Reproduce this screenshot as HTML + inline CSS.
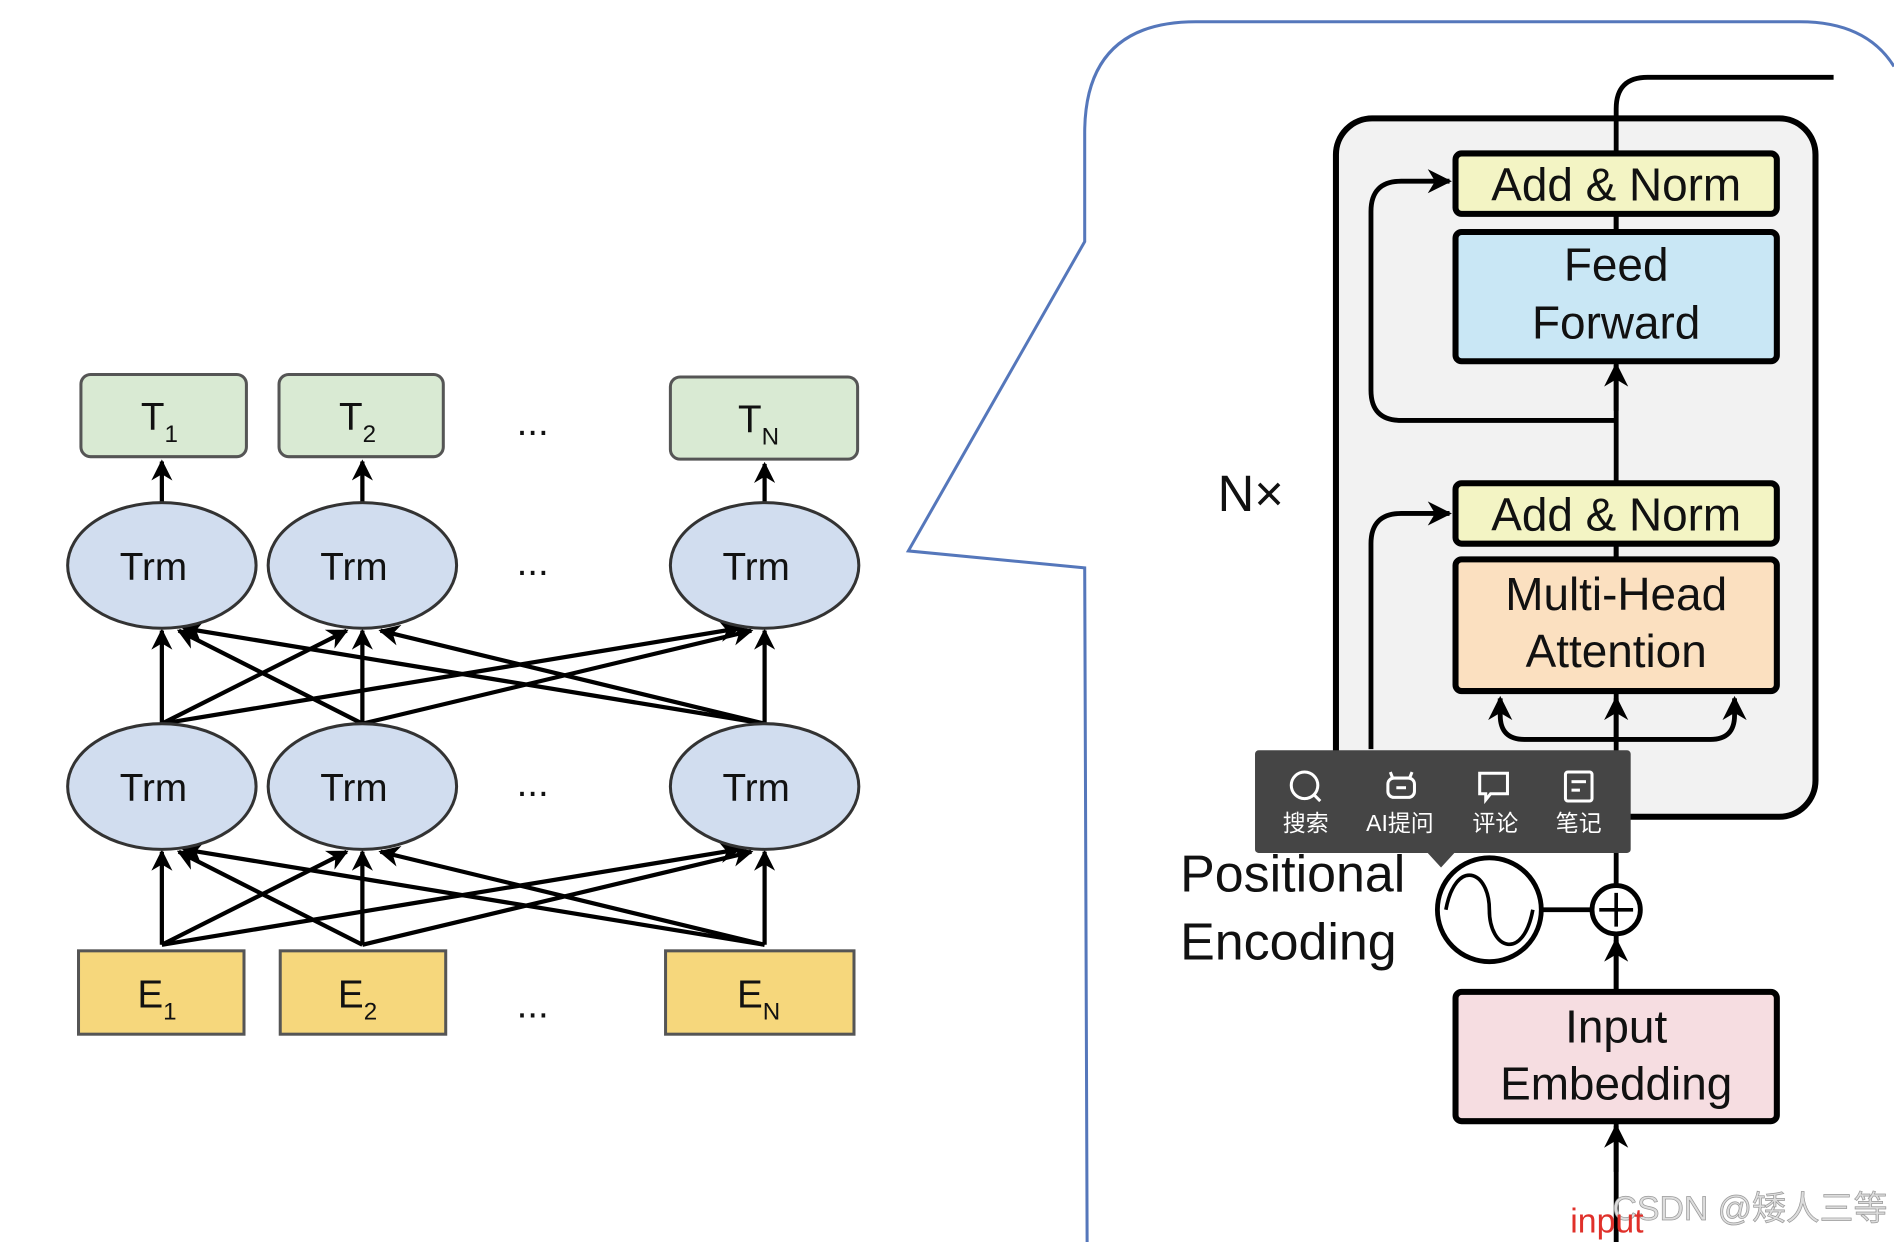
<!DOCTYPE html>
<html><head><meta charset="utf-8"><style>
html,body{margin:0;padding:0;background:#fff;}
svg{display:block;}
text{font-family:"Liberation Sans","Noto Sans CJK SC",sans-serif;}
</style></head><body>
<svg width="1894" height="1242" viewBox="0 0 1568 1028" preserveAspectRatio="none" xmlns="http://www.w3.org/2000/svg">
<defs>
<marker id="a" viewBox="0 0 10 10" refX="9" refY="5" markerWidth="5" markerHeight="5" orient="auto-start-reverse"><path d="M0,0 L10,5 L0,10 L3,5 z" fill="#000"/></marker>
</defs>
<rect width="1568" height="1028" fill="#fff"/>
<g stroke="#555" stroke-width="2.5">
<rect x="67" y="310" width="137" height="68" rx="8" fill="#d9ead3"/>
<rect x="231" y="310" width="136" height="68" rx="8" fill="#d9ead3"/>
<rect x="555" y="312" width="155" height="68" rx="8" fill="#d9ead3"/>
<rect x="65" y="787" width="137" height="69" fill="#f6d77c"/>
<rect x="232" y="787" width="137" height="69" fill="#f6d77c"/>
<rect x="551" y="787" width="156" height="69" fill="#f6d77c"/>
</g>
<g stroke="#000" stroke-width="3.5" fill="none" marker-end="url(#a)">
<line x1="134" y1="416" x2="134" y2="382"/>
<line x1="300" y1="416" x2="300" y2="382"/>
<line x1="633" y1="416" x2="633" y2="384"/>
<line x1="134" y1="599" x2="134" y2="522"/>
<line x1="134" y1="599" x2="287" y2="522"/>
<line x1="134" y1="599" x2="612" y2="520"/>
<line x1="300" y1="599" x2="148" y2="522"/>
<line x1="300" y1="599" x2="300" y2="522"/>
<line x1="300" y1="599" x2="622" y2="522"/>
<line x1="633" y1="599" x2="152" y2="520"/>
<line x1="633" y1="599" x2="315" y2="522"/>
<line x1="633" y1="599" x2="633" y2="522"/>
<line x1="134" y1="782" x2="134" y2="705"/>
<line x1="134" y1="782" x2="287" y2="705"/>
<line x1="134" y1="782" x2="612" y2="703"/>
<line x1="300" y1="782" x2="148" y2="705"/>
<line x1="300" y1="782" x2="300" y2="705"/>
<line x1="300" y1="782" x2="622" y2="705"/>
<line x1="633" y1="782" x2="152" y2="703"/>
<line x1="633" y1="782" x2="315" y2="705"/>
<line x1="633" y1="782" x2="633" y2="705"/>
</g>
<g stroke="#333" stroke-width="2.5" fill="#d1ddef">
<ellipse cx="134" cy="468" rx="78" ry="52"/>
<ellipse cx="300" cy="468" rx="78" ry="52"/>
<ellipse cx="633" cy="468" rx="78" ry="52"/>
<ellipse cx="134" cy="651" rx="78" ry="52"/>
<ellipse cx="300" cy="651" rx="78" ry="52"/>
<ellipse cx="633" cy="651" rx="78" ry="52"/>
</g>
<g font-size="32" fill="#111" text-anchor="middle">
<text x="127" y="480">Trm</text><text x="293" y="480">Trm</text><text x="626" y="480">Trm</text>
<text x="127" y="663">Trm</text><text x="293" y="663">Trm</text><text x="626" y="663">Trm</text>
<text x="132" y="356">T<tspan font-size="20" dy="10">1</tspan></text>
<text x="296" y="356">T<tspan font-size="20" dy="10">2</tspan></text>
<text x="628" y="358">T<tspan font-size="20" dy="10">N</tspan></text>
<text x="130" y="834">E<tspan font-size="20" dy="10">1</tspan></text>
<text x="296" y="834">E<tspan font-size="20" dy="10">2</tspan></text>
<text x="628" y="834">E<tspan font-size="20" dy="10">N</tspan></text>
<text x="441" y="360">...</text><text x="441" y="476">...</text><text x="441" y="659">...</text><text x="441" y="842">...</text>
</g>
<path d="M900,1028 L898,470 L752,456 L898,200 L898,110 Q898,18 990,18 L1490,18 Q1545,18 1568,55" fill="none" stroke="#5577bb" stroke-width="2.5"/>
<rect x="1106" y="98" width="397" height="578" rx="30" fill="#f2f2f2" stroke="#000" stroke-width="5"/>
<g stroke="#000" stroke-width="4" fill="none">
<path d="M1338,1028 L1338,90 Q1338,64 1364,64 L1518,64"/>
<path d="M1338,348 L1160,348 Q1135,348 1135,323 L1135,175 Q1135,150 1160,150 L1200,150" marker-end="url(#a)"/>
<path d="M1135,620 L1135,450 Q1135,425 1160,425 L1200,425" marker-end="url(#a)"/>
<path d="M1338,612 L1338,578" marker-end="url(#a)"/>
<path d="M1338,612 L1262,612 Q1242,612 1242,592 L1242,578" marker-end="url(#a)"/>
<path d="M1338,612 L1416,612 Q1436,612 1436,592 L1436,578" marker-end="url(#a)"/>
<path d="M1338,340 L1338,302" marker-end="url(#a)"/>
<path d="M1338,820 L1338,778" marker-end="url(#a)"/>
<path d="M1338,970 L1338,932" marker-end="url(#a)"/>
<line x1="1276" y1="753" x2="1318" y2="753"/>
</g>
<g stroke="#000" stroke-width="5">
<rect x="1205" y="127" width="266" height="50" rx="5" fill="#f3f4c4"/>
<rect x="1205" y="192" width="266" height="107" rx="5" fill="#c9e7f5"/>
<rect x="1205" y="400" width="266" height="50" rx="5" fill="#f3f4c4"/>
<rect x="1205" y="463" width="266" height="109" rx="5" fill="#fbe0c0"/>
<rect x="1205" y="821" width="266" height="107" rx="5" fill="#f6dde1"/>
</g>
<line x1="1338" y1="177" x2="1338" y2="192" stroke="#000" stroke-width="4"/>
<line x1="1338" y1="450" x2="1338" y2="463" stroke="#000" stroke-width="4"/>
<circle cx="1233" cy="753" r="43" fill="#fff" stroke="#000" stroke-width="4"/>
<path d="M1197,753 C1205,710 1233,720 1233,753 C1233,786 1261,796 1269,753" fill="none" stroke="#000" stroke-width="3"/>
<circle cx="1338" cy="753" r="20" fill="#fff" stroke="#000" stroke-width="4"/>
<path d="M1324,753 L1352,753 M1338,739 L1338,767" stroke="#000" stroke-width="3"/>
<g font-size="38" fill="#111" text-anchor="middle">
<text x="1338" y="166">Add &amp; Norm</text>
<text x="1338" y="232">Feed</text><text x="1338" y="280">Forward</text>
<text x="1338" y="439">Add &amp; Norm</text>
<text x="1338" y="505">Multi-Head</text><text x="1338" y="552">Attention</text>
<text x="1338" y="863">Input</text><text x="1338" y="910">Embedding</text>
</g>
<text x="1008" y="423" font-size="42" fill="#111">N×</text>
<text x="977" y="738" font-size="43" fill="#111">Positional</text>
<text x="977" y="794" font-size="43" fill="#111">Encoding</text>
<rect x="1039" y="621" width="311" height="85" rx="3" fill="#454545"/>
<path d="M1182,706 L1204,706 L1193,718 z" fill="#454545"/>
<g stroke="#fff" stroke-width="2.5" fill="none">
<circle cx="1080" cy="650" r="11"/><line x1="1088" y1="658" x2="1093" y2="663"/>
<rect x="1149" y="644" width="22" height="16" rx="5"/><line x1="1156" y1="652" x2="1164" y2="652"/><line x1="1153" y1="644" x2="1151" y2="639"/><line x1="1167" y1="644" x2="1169" y2="639"/>
<path d="M1225,640 L1248,640 L1248,657 L1234,657 L1230,662 L1230,657 L1225,657 z"/>
<rect x="1296" y="639" width="22" height="24" rx="2"/><line x1="1301" y1="647" x2="1313" y2="647"/><line x1="1301" y1="654" x2="1308" y2="654"/>
</g>
<g font-size="19" fill="#fff" text-anchor="middle">
<text x="1081" y="688">搜索</text><text x="1159" y="688">AI提问</text><text x="1238" y="688">评论</text><text x="1307" y="688">笔记</text>
</g>
<text x="1335" y="1010" font-size="28" fill="#ddd" stroke="#999" stroke-width="0.6">CSDN @矮人三等</text>
<text x="1300" y="1020" font-size="28" fill="#e0302a">input</text>
</svg>
</body></html>
